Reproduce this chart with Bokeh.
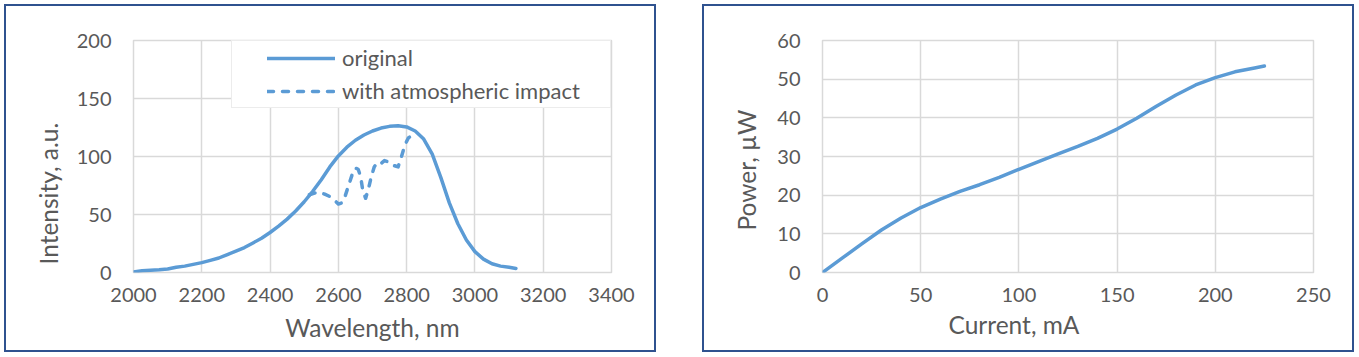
from bokeh.plotting import figure
from bokeh.layouts import row
from bokeh.models import Range1d, Legend, LegendItem, Title
from bokeh.embed import file_html
from bokeh.resources import INLINE

# ---- data: left chart (spectrum) ----
wavelength_original = [2000, 2025, 2050, 2075, 2100, 2125, 2150, 2175, 2200, 2225, 2250, 2275,
                       2300, 2325, 2350, 2375, 2400, 2425, 2450, 2475, 2500, 2525, 2550, 2575,
                       2600, 2625, 2650, 2675, 2700, 2725, 2750, 2775, 2800, 2825, 2850, 2875,
                       2900, 2925, 2950, 2975, 3000, 3025, 3050, 3075, 3100, 3120]
intensity_original = [0.5, 1.5, 2.0, 2.3, 3.0, 4.5, 5.5, 7.0, 8.5, 10.5, 12.5, 15.5,
                      18.5, 21.5, 25.5, 29.5, 34.5, 40.0, 46.0, 53.0, 61.0, 70.0, 80.0, 91.0,
                      100.5, 108.0, 114.0, 118.5, 122.0, 124.5, 126.0, 126.5, 125.5, 122.0, 115.0, 102.0,
                      82.0, 60.0, 42.0, 28.0, 18.0, 11.5, 7.5, 5.5, 4.5, 3.5]
wavelength_atm = [2515, 2530, 2545, 2560, 2575, 2590, 2600, 2610, 2620, 2630, 2640, 2650, 2658,
                  2665, 2672, 2680, 2688, 2696, 2705, 2715, 2725, 2735, 2745, 2755, 2765, 2775,
                  2785, 2795, 2805, 2815, 2825]
intensity_atm = [67.0, 68.5, 69.0, 67.5, 65.5, 62.0, 59.0, 60.0, 66.0, 75.0, 84.0, 90.0, 89.0,
                 83.0, 70.0, 64.0, 72.0, 82.0, 91.0, 95.0, 94.0, 96.5, 95.5, 93.0, 92.0, 91.0,
                 100.0, 110.0, 116.0, 118.0, 120.0]
x1_ticks = [2000, 2200, 2400, 2600, 2800, 3000, 3200, 3400]
y1_ticks = [0, 50, 100, 150, 200]

# ---- data: right chart (power vs current) ----
current_ma = [0, 10, 20, 30, 40, 50, 60, 70, 80, 90, 100, 110, 120, 130, 140, 150, 160, 170,
              180, 190, 200, 210, 220, 225]
power_uw = [0.0, 3.7, 7.4, 11.0, 14.1, 16.8, 19.0, 21.0, 22.7, 24.6, 26.7, 28.7, 30.7, 32.6,
            34.7, 37.1, 39.9, 43.0, 45.9, 48.5, 50.4, 51.9, 52.9, 53.4]
x2_ticks = [0, 50, 100, 150, 200, 250]
y2_ticks = [0, 10, 20, 30, 40, 50, 60]

FONT = "Lato"
TXT = "#595959"
GRID = "#d9d9d9"
LINE = "#5b9bd5"
BORDER = "#2f528f"
TITLE_SIZE = "24.5px"


def style(p, xt, yt):
    p.background_fill_color = "white"
    p.border_fill_color = "white"
    p.outline_line_color = GRID
    p.outline_line_width = 1.5
    p.xaxis.ticker = xt
    p.yaxis.ticker = yt
    for ax in (p.xaxis[0], p.yaxis[0]):
        ax.axis_line_color = None
        ax.major_tick_line_color = None
        ax.minor_tick_line_color = None
        ax.major_tick_out = 0
        ax.major_tick_in = 0
        ax.major_label_text_font = FONT
        ax.major_label_text_font_size = "20px"
        ax.major_label_text_color = TXT
    p.xaxis.major_label_standoff = 15
    p.yaxis.major_label_standoff = 22
    p.grid.grid_line_color = GRID
    p.grid.grid_line_width = 1.5


def title(text, **kw):
    return Title(text=text, text_font=FONT, text_font_size=TITLE_SIZE, text_font_style="normal",
                 text_color=TXT, **kw)


# ---- left figure ----
p1 = figure(width=652, height=348, output_backend="svg", toolbar_location=None,
            x_range=Range1d(2000, 3400), y_range=Range1d(0, 200),
            min_border_left=127, min_border_right=47, min_border_top=34, min_border_bottom=82,
            styles={"border": f"2px solid {BORDER}"}, margin=(4, 0, 0, 4))
style(p1, x1_ticks, y1_ticks)
r1 = p1.line(wavelength_original, intensity_original, line_color=LINE, line_width=3.5,
             line_join="round", line_cap="round")
r2 = p1.line(wavelength_atm, intensity_atm, line_color=LINE, line_width=3.5,
             line_dash="6 9", line_join="round", line_cap="round")
p1.xaxis.axis_label = "Wavelength, nm"
p1.xaxis.axis_label_text_font = FONT
p1.xaxis.axis_label_text_font_size = TITLE_SIZE
p1.xaxis.axis_label_text_font_style = "normal"
p1.xaxis.axis_label_text_color = TXT
p1.xaxis.axis_label_standoff = 8
p1.add_layout(title("Intensity, a.u.", align="left", offset=8, standoff=22), "left")

legend = Legend(items=[LegendItem(label="original", renderers=[r1]),
                       LegendItem(label="with atmospheric impact", renderers=[r2])],
                location="top_right", margin=0, padding=3, spacing=6,
                title=" ", title_location="left", title_standoff=5,
                title_text_font=FONT, title_text_font_size="22px",
                glyph_width=68, glyph_height=22, label_height=22, label_width=265,
                label_standoff=7, label_text_font=FONT, label_text_font_size="22px",
                label_text_color=TXT, border_line_color=GRID, border_line_width=1.5,
                background_fill_color="white", background_fill_alpha=1.0)
p1.add_layout(legend)

# ---- right figure ----
p2 = figure(width=652, height=348, output_backend="svg", toolbar_location=None,
            x_range=Range1d(0, 250), y_range=Range1d(0, 60),
            min_border_left=118, min_border_right=43, min_border_top=31, min_border_bottom=77,
            styles={"border": f"2px solid {BORDER}"}, margin=(4, 0, 0, 46))
style(p2, x2_ticks, y2_ticks)
p2.line(current_ma, power_uw, line_color=LINE, line_width=3.5, line_join="round", line_cap="round")
p2.add_layout(title("Current, mA", align="left", offset=126, standoff=6), "below")
p2.add_layout(title("Power, µW", align="left", offset=42, standoff=27), "left")

layout = row(p1, p2)
open("out.html", "w").write(file_html(layout, INLINE))
